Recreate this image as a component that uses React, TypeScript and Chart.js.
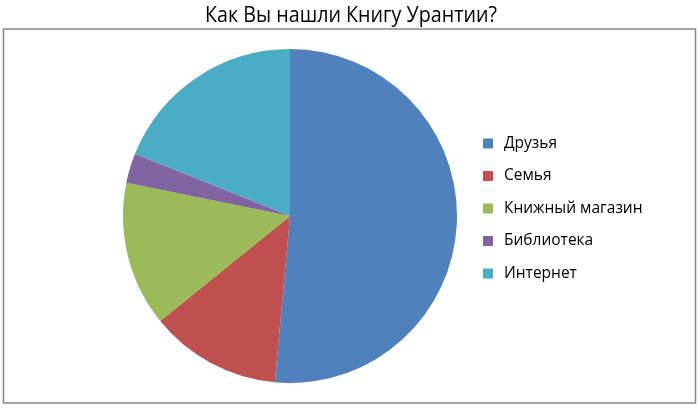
import React, { useEffect, useRef } from "react";
import { Chart, registerables } from "chart.js";

Chart.register(...registerables);

const TITLE = "Как Вы нашли Книгу Урантии?";
const CATEGORIES = ["Друзья", "Семья", "Книжный магазин", "Библиотека", "Интернет"];
const VALUES = [51.4, 12.7, 14.0, 2.9, 18.9];
const COLORS = ["#4F81BD", "#C0504D", "#9BBB59", "#8064A2", "#4BACC6"];

const decorPlugin = {
  id: "decor",
  beforeDraw(chart: any) {
    const ctx = chart.ctx;
    ctx.save();
    ctx.fillStyle = "#ffffff";
    ctx.fillRect(0, 0, chart.width, chart.height);
    ctx.strokeStyle = "#868686";
    ctx.lineWidth = 1.5;
    ctx.strokeRect(3.5, 29, 692, 374);
    ctx.fillStyle = "#000000";
    ctx.font = '22px "Open Sans", sans-serif';
    ctx.textAlign = "center";
    ctx.textBaseline = "middle";
    ctx.translate(351, 16);
    ctx.scale(0.895, 1);
    ctx.fillText(TITLE, 0, 0);
    ctx.restore();
  },
  afterDraw(chart: any) {
    const ctx = chart.ctx;
    const labels = chart.data.labels as string[];
    const colors = chart.data.datasets[0].backgroundColor as string[];
    ctx.save();
    ctx.font = '15.5px "Open Sans", sans-serif';
    ctx.textAlign = "left";
    ctx.textBaseline = "middle";
    labels.forEach((lab, i) => {
      const y = 143.5 + i * 32.5;
      ctx.fillStyle = colors[i];
      ctx.fillRect(483, y - 5, 10, 10);
      ctx.fillStyle = "#000000";
      ctx.fillText(lab, 504, y);
    });
    ctx.restore();
  },
};

export default function App() {
  const ref = useRef<HTMLCanvasElement>(null);
  useEffect(() => {
    document.body.style.margin = "0";
    const chart = new Chart(ref.current!, {
      type: "pie",
      data: {
        labels: CATEGORIES,
        datasets: [
          {
            data: VALUES,
            backgroundColor: COLORS,
            borderWidth: 0,
          },
        ],
      },
      options: {
        responsive: false,
        animation: false,
        devicePixelRatio: 1,
        layout: { padding: { left: 123, right: 243, top: 49, bottom: 28 } },
        plugins: {
          legend: { display: false },
          tooltip: { enabled: false },
          title: { display: false },
        },
      },
      plugins: [decorPlugin],
    });
    return () => chart.destroy();
  }, []);
  return <canvas ref={ref} width={700} height={411} style={{ display: "block" }} />;
}
